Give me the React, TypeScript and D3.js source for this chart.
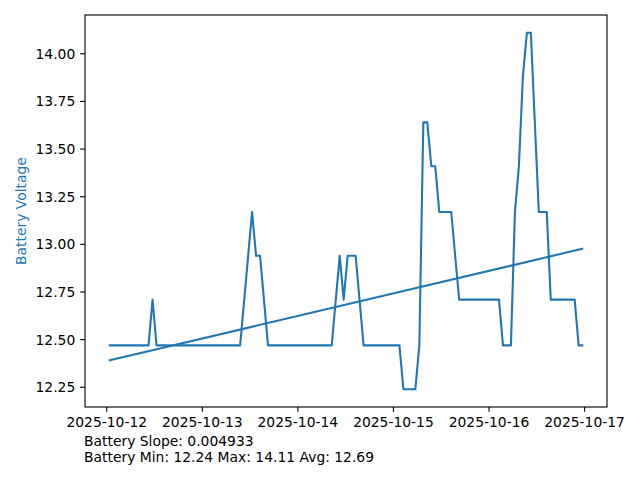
import React from "react";
import * as d3 from "d3";

const times: string[] = [
  "2025-10-12T00:30:00Z", "2025-10-12T10:30:00Z", "2025-10-12T11:30:00Z", "2025-10-12T12:30:00Z",
  "2025-10-13T09:30:00Z", "2025-10-13T12:30:00Z", "2025-10-13T13:30:00Z", "2025-10-13T14:30:00Z",
  "2025-10-13T16:30:00Z", "2025-10-14T08:30:00Z", "2025-10-14T10:30:00Z", "2025-10-14T11:30:00Z",
  "2025-10-14T12:30:00Z", "2025-10-14T14:30:00Z", "2025-10-14T16:30:00Z", "2025-10-15T01:30:00Z",
  "2025-10-15T02:30:00Z", "2025-10-15T05:30:00Z", "2025-10-15T06:30:00Z", "2025-10-15T07:30:00Z",
  "2025-10-15T08:30:00Z", "2025-10-15T09:30:00Z", "2025-10-15T10:30:00Z", "2025-10-15T11:30:00Z",
  "2025-10-15T14:30:00Z", "2025-10-15T16:30:00Z", "2025-10-16T02:30:00Z", "2025-10-16T03:30:00Z",
  "2025-10-16T05:30:00Z", "2025-10-16T06:30:00Z", "2025-10-16T07:30:00Z", "2025-10-16T08:30:00Z",
  "2025-10-16T09:30:00Z", "2025-10-16T10:30:00Z", "2025-10-16T12:30:00Z", "2025-10-16T14:30:00Z",
  "2025-10-16T15:30:00Z", "2025-10-16T21:30:00Z", "2025-10-16T22:30:00Z", "2025-10-16T23:40:00Z",
];

const voltages: number[] = [
  12.47, 12.47, 12.71, 12.47,
  12.47, 13.17, 12.94, 12.94,
  12.47, 12.47, 12.94, 12.71,
  12.94, 12.94, 12.47, 12.47,
  12.24, 12.24, 12.47, 13.64,
  13.64, 13.41, 13.41, 13.17,
  13.17, 12.71, 12.71, 12.47,
  12.47, 13.17, 13.41, 13.88,
  14.11, 14.11, 13.17, 13.17,
  12.71, 12.71, 12.47, 12.47,
];

const trendStart = 12.39;
const trendSlopePerHour = 0.004933;

const yTicks: number[] = [12.25, 12.5, 12.75, 13.0, 13.25, 13.5, 13.75, 14.0];
const statLines: string[] = [
  "Battery Slope: 0.004933",
  "Battery Min: 12.24 Max: 14.11 Avg: 12.69",
];
const yLabel = "Battery Voltage";

const W = 640;
const H = 480;
const box = { left: 85, right: 607, top: 15, bottom: 407 };
const blue = "#1f77b4";
const font = "DejaVu Sans, sans-serif";
const fs = 13.89;
const tickLen = 4.86;

export default function App() {
  const dates = times.map((t) => new Date(t));
  const [t0, t1] = d3.extent(dates) as [Date, Date];
  const span = +t1 - +t0;
  const x = d3
    .scaleUtc()
    .domain([new Date(+t0 - span * 0.05), new Date(+t1 + span * 0.05)])
    .range([box.left, box.right]);

  const [vmin, vmax] = d3.extent(voltages) as [number, number];
  const vspan = vmax - vmin;
  const y = d3
    .scaleLinear()
    .domain([vmin - vspan * 0.05, vmax + vspan * 0.05])
    .range([box.bottom, box.top]);

  const pts: [Date, number][] = dates.map((d, i) => [d, voltages[i]]);
  const line = d3
    .line<[Date, number]>()
    .x((d) => x(d[0]))
    .y((d) => y(d[1]));

  const hours = span / 3600000;
  const trend: [Date, number][] = [
    [t0, trendStart],
    [t1, trendStart + trendSlopePerHour * hours],
  ];

  const xTicks = d3.utcDay.range(d3.utcDay.ceil(x.domain()[0]), x.domain()[1]);
  const fmt = d3.utcFormat("%Y-%m-%d");

  return (
    <svg
      width={W}
      height={H}
      style={{ position: "absolute", left: 0, top: 0, background: "#fff" }}
      fontFamily={font}
      fontSize={fs}
    >
      <rect x={0} y={0} width={W} height={H} fill="#fff" />
      <path d={line(pts) || ""} fill="none" stroke={blue} strokeWidth={2.08} strokeLinejoin="round" />
      <path d={line(trend) || ""} fill="none" stroke={blue} strokeWidth={2.08} />
      <rect
        x={box.left}
        y={box.top}
        width={box.right - box.left}
        height={box.bottom - box.top}
        fill="none"
        stroke="#000"
        strokeWidth={1.11}
      />
      {xTicks.map((t, i) => (
        <g key={"x" + i}>
          <line x1={x(t)} x2={x(t)} y1={box.bottom} y2={box.bottom + tickLen} stroke="#000" strokeWidth={1.11} />
          <text x={x(t)} y={box.bottom + tickLen + 4.86 + 10.3} textAnchor="middle" fill="#000">
            {fmt(t)}
          </text>
        </g>
      ))}
      {yTicks.map((v, i) => (
        <g key={"y" + i}>
          <line x1={box.left - tickLen} x2={box.left} y1={y(v)} y2={y(v)} stroke="#000" strokeWidth={1.11} />
          <text x={box.left - tickLen - 4.86} y={y(v)} dy="0.36em" textAnchor="end" fill="#000">
            {v.toFixed(2)}
          </text>
        </g>
      ))}
      <text
        transform={`translate(26,${(box.top + box.bottom) / 2}) rotate(-90)`}
        textAnchor="middle"
        fill={blue}
      >
        {yLabel}
      </text>
      {statLines.map((s, i) => (
        <text key={"s" + i} x={84} y={445.7 + i * 16.7} fill="#000">
          {s}
        </text>
      ))}
    </svg>
  );
}
